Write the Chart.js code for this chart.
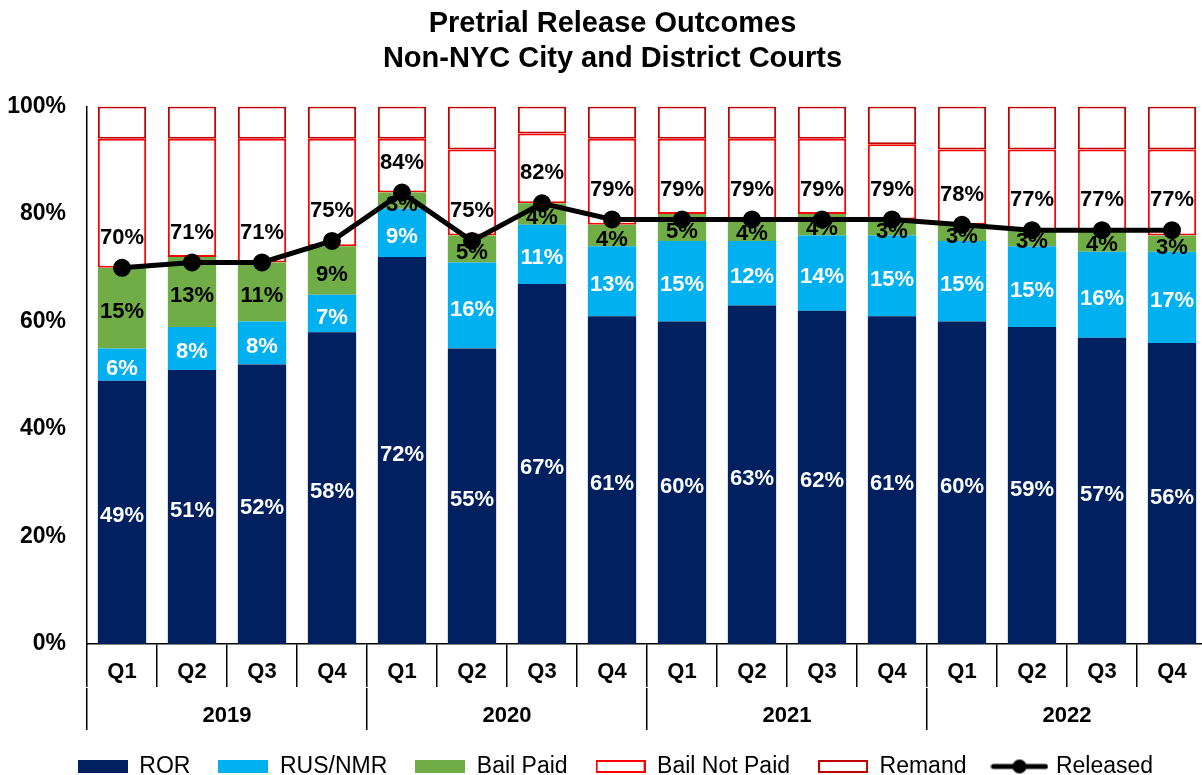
<!DOCTYPE html>
<html>
<head>
<meta charset="utf-8">
<script src="https://cdn.jsdelivr.net/npm/chart.js@4"></script>
<style>
  html, body { margin: 0; padding: 0; background: #fff; overflow: hidden; }
  #wrap { width: 1228px; height: 788px; }
</style>
</head>
<body>
<div id="wrap"><canvas id="outcomes" width="1228" height="788"></canvas></div>
<script>
// Data
var quarters = ['Q1', 'Q2', 'Q3', 'Q4', 'Q1', 'Q2', 'Q3', 'Q4', 'Q1', 'Q2', 'Q3', 'Q4', 'Q1', 'Q2', 'Q3', 'Q4'];
var years = ['2019', '2020', '2021', '2022'];
var ror = [49, 51, 52, 58, 72, 55, 67, 61, 60, 63, 62, 61, 60, 59, 57, 56];
var rusNmr = [6, 8, 8, 7, 9, 16, 11, 13, 15, 12, 14, 15, 15, 15, 16, 17];
var bailPaid = [15, 13, 11, 9, 3, 5, 4, 4, 5, 4, 4, 3, 3, 3, 4, 3];
var bailNotPaid = [24, 22, 23, 20, 10, 16, 13, 16, 14, 15, 14, 14, 14, 15, 15, 16];
var remand = [6, 6, 6, 6, 6, 8, 5, 6, 6, 6, 6, 7, 8, 8, 8, 8];
var released = [70, 71, 71, 75, 84, 75, 82, 79, 79, 79, 79, 79, 78, 77, 77, 77];

var FONT = '"Liberation Sans", Arial, sans-serif';

// little pictures for the legend keys
function boxKey(fill, stroke) {
    var c = document.createElement('canvas');
    c.width = 50; c.height = 13;
    var g = c.getContext('2d');
    g.fillStyle = fill;
    g.fillRect(0, 0, 50, 13);
    if (stroke) {
        g.strokeStyle = stroke;
        g.lineWidth = 2;
        g.strokeRect(1, 1, 48, 11);
    }
    return c;
}
function lineKey() {
    var c = document.createElement('canvas');
    c.width = 58; c.height = 16;
    var g = c.getContext('2d');
    g.strokeStyle = '#000';
    g.lineWidth = 5;
    g.lineCap = 'round';
    g.beginPath(); g.moveTo(3, 8); g.lineTo(55, 8); g.stroke();
    g.fillStyle = '#000';
    g.beginPath(); g.arc(29, 8, 7, 0, Math.PI * 2); g.fill();
    return c;
}
var keys = [boxKey('#002060'), boxKey('#00B0F0'), boxKey('#70AD47'),
            boxKey('#fff', '#FF0000'), boxKey('#fff', '#C00000'), lineKey()];

// value labels inside the bars and above the line
var valueLabels = {
    id: 'valueLabels',
    afterDatasetsDraw: function(chart) {
        var ctx = chart.ctx;
        var colors = ['#fff', '#fff', '#000', null, null, '#000'];
        ctx.save();
        ctx.font = 'bold 22px ' + FONT;
        ctx.textAlign = 'center';
        ctx.textBaseline = 'middle';
        chart.data.datasets.forEach(function(ds, i) {
            if (!colors[i]) return;
            var meta = chart.getDatasetMeta(i);
            meta.data.forEach(function(el, j) {
                var y = ds.type === 'line' ? el.y - 30 : (el.y + el.base) / 2 + 4;
                ctx.fillStyle = colors[i];
                ctx.fillText(ds.data[j] + '%', el.x, y);
            });
        });
        ctx.restore();
    }
};

// nudge title and legend a little to the right, like the original
var shiftBoxes = {
    id: 'shiftBoxes',
    afterLayout: function(chart) {
        chart.legend.left += 12;
        chart.legend.right += 12;
        chart.titleBlock.left += 9;
        chart.titleBlock.right += 9;
    }
};

var ctx = document.getElementById('outcomes').getContext('2d');

var chart1 = new Chart(ctx, {
    type: 'bar',
    data: {
        labels: quarters,
        datasets: [
            { label: 'ROR', data: ror, backgroundColor: '#002060', borderWidth: 0, order: 1 },
            { label: 'RUS/NMR', data: rusNmr, backgroundColor: '#00B0F0', borderWidth: 0, order: 1 },
            { label: 'Bail Paid', data: bailPaid, backgroundColor: '#70AD47', borderWidth: 0, order: 1 },
            { label: 'Bail Not Paid', data: bailNotPaid, backgroundColor: '#fff', borderColor: '#FF0000',
              borderWidth: 2, borderSkipped: false, order: 1 },
            { label: 'Remand', data: remand, backgroundColor: '#fff', borderColor: '#C00000',
              borderWidth: 2, borderSkipped: false, order: 1 },
            { type: 'line', label: 'Released', data: released, stack: 'released',
              borderColor: '#000', backgroundColor: '#000', borderWidth: 5,
              pointRadius: 6.5, pointHoverRadius: 6.5, pointBackgroundColor: '#000',
              tension: 0, order: 0 }
        ]
    },
    options: {
        responsive: false,
        animation: false,
        devicePixelRatio: 1,
        layout: { padding: { left: 0, right: 21, top: 0, bottom: 0 } },
        datasets: {
            bar: { barPercentage: 0.69, categoryPercentage: 1 }
        },
        scales: {
            x: {
                stacked: true,
                weight: 0,
                grid: { drawOnChartArea: false, offset: true, color: '#000', lineWidth: 1.5, tickLength: 43 },
                border: { display: true, color: '#000', width: 1.5 },
                ticks: { color: '#000', font: { family: FONT, size: 22, weight: 'bold' }, padding: -28, maxRotation: 0 },
                afterFit: function(s) { s.height = 44; }
            },
            year: {
                type: 'category',
                axis: 'x',
                position: 'bottom',
                labels: years,
                offset: true,
                weight: 1,
                grid: { drawOnChartArea: false, offset: true, color: '#000', lineWidth: 1.5, tickLength: 42 },
                border: { display: false },
                ticks: { color: '#000', font: { family: FONT, size: 22, weight: 'bold' }, padding: -27, maxRotation: 0 },
                afterFit: function(s) { s.height = 39; }
            },
            y: {
                stacked: true,
                min: 0,
                max: 100,
                grid: { display: false },
                border: { display: true, color: '#000', width: 1.5 },
                ticks: {
                    stepSize: 20,
                    padding: 13,
                    color: '#000',
                    font: { family: FONT, size: 23, weight: 'bold' },
                    callback: function(v) { return v + '%'; }
                },
                afterFit: function(s) { s.width = 87; }
            }
        },
        plugins: {
            title: {
                display: true,
                text: ['Pretrial Release Outcomes', 'Non-NYC City and District Courts'],
                color: '#000',
                font: { family: FONT, size: 29, weight: 'bold', lineHeight: 1.2 },
                padding: { top: 7, bottom: 30 }
            },
            legend: {
                position: 'bottom',
                labels: {
                    color: '#000',
                    font: { family: FONT, size: 23 },
                    usePointStyle: true,
                    pointStyleWidth: 50,
                    padding: 28,
                    sort: function(a, b) { return a.datasetIndex - b.datasetIndex; },
                    generateLabels: function(chart) {
                        var items = Chart.defaults.plugins.legend.labels.generateLabels(chart);
                        items.forEach(function(it) { it.pointStyle = keys[it.datasetIndex]; });
                        return items;
                    }
                }
            },
            tooltip: { enabled: false }
        }
    },
    plugins: [valueLabels, shiftBoxes]
});
</script>
</body>
</html>
